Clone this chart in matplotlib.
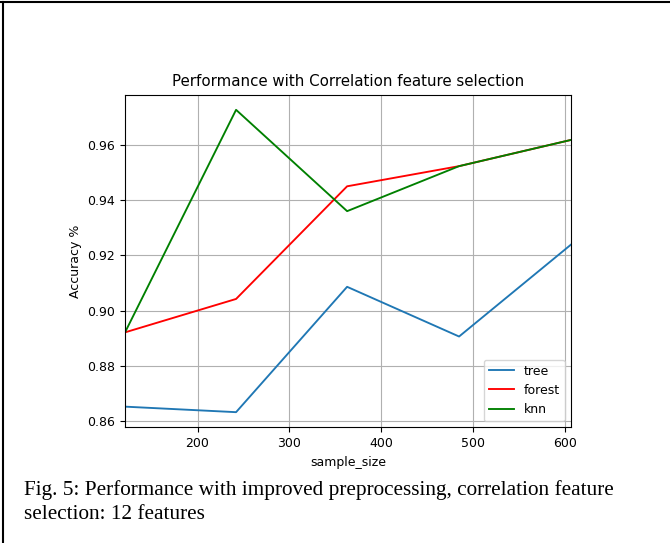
import matplotlib.pyplot as plt
from matplotlib.lines import Line2D

sample_size = [121, 242, 363, 485, 607]
tree = [0.8652, 0.8632, 0.9086, 0.8906, 0.9239]
forest = [0.8921, 0.9042, 0.9450, 0.9523, 0.9618]
knn = [0.8921, 0.9727, 0.9360, 0.9523, 0.9618]

fs = 9
fig = plt.figure(figsize=(6.7, 5.43), dpi=100)
ax = fig.add_axes([0.1866, 0.2131, 0.6657, 0.6125])

ax.plot(sample_size, tree, label="tree", color="#1f77b4", lw=1.35)
ax.plot(sample_size, forest, label="forest", color="red", lw=1.35)
ax.plot(sample_size, knn, label="knn", color="green", lw=1.35)
ax.set_xlim(sample_size[0], sample_size[-1])
ax.grid(True)
ax.set_title("Performance with Correlation feature selection", fontsize=10.8)
ax.set_xlabel("sample_size", fontsize=fs)
ax.set_ylabel("Accuracy %", fontsize=fs)
ax.tick_params(labelsize=fs)
ax.legend(loc="lower right", fontsize=fs)

# caption under the chart
fig.text(24 / 670, 1 - 495 / 543,
         "Fig. 5: Performance with improved preprocessing, correlation feature",
         family="Liberation Serif", fontsize=15.3)
fig.text(24 / 670, 1 - 519 / 543, "selection: 12 features",
         family="Liberation Serif", fontsize=15.3)

# page frame
fig.add_artist(Line2D([0, 1], [1 - 2 / 543, 1 - 2 / 543], color="black", lw=1.5))
fig.add_artist(Line2D([3 / 670, 3 / 670], [0, 1 - 2 / 543], color="black", lw=1.5))

fig.savefig("out.png", dpi=100)
